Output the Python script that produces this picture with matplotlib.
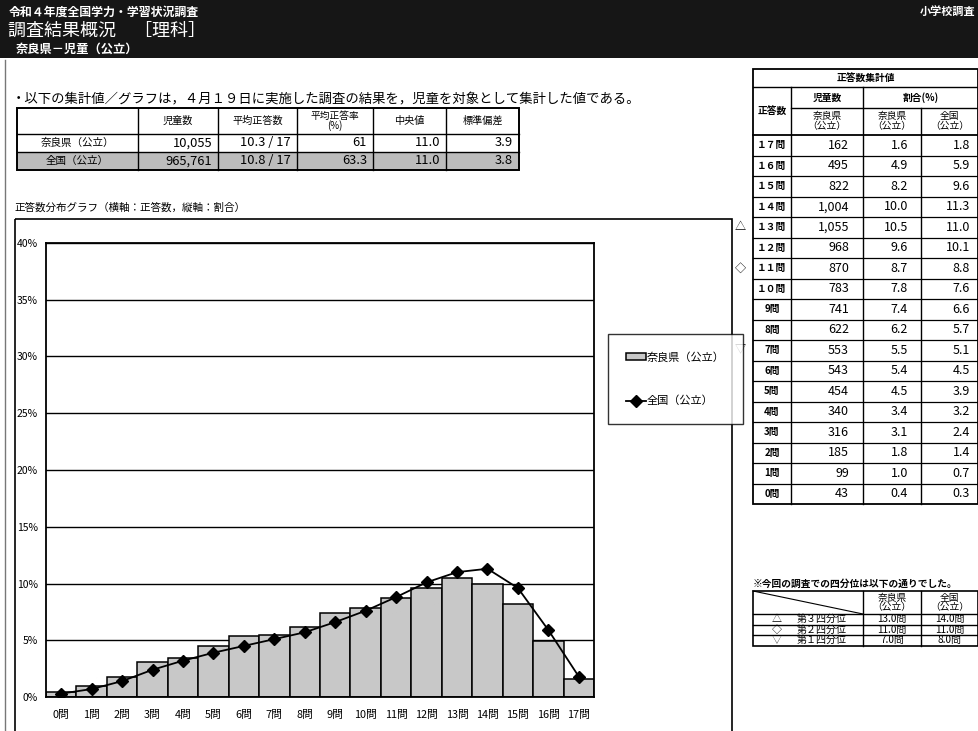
import matplotlib
matplotlib.use('Agg')
import matplotlib.pyplot as plt
from matplotlib.patches import Rectangle
from matplotlib.lines import Line2D

plt.rcParams['font.family'] = ['Noto Sans CJK JP', 'DejaVu Sans']

# ---------------- data ----------------
categories = ['0問', '1問', '2問', '3問', '4問', '5問', '6問', '7問', '8問', '9問',
              '10問', '11問', '12問', '13問', '14問', '15問', '16問', '17問']
table_labels = ['0問', '1問', '2問', '3問', '4問', '5問', '6問', '7問', '8問', '9問',
                '１０問', '１１問', '１２問', '１３問', '１４問', '１５問', '１６問', '１７問']
nara_counts = [43, 99, 185, 316, 340, 454, 543, 553, 622, 741,
               783, 870, 968, 1055, 1004, 822, 495, 162]
nara_pct = [0.4, 1.0, 1.8, 3.1, 3.4, 4.5, 5.4, 5.5, 6.2, 7.4,
            7.8, 8.7, 9.6, 10.5, 10.0, 8.2, 4.9, 1.6]
national_pct = [0.3, 0.7, 1.4, 2.4, 3.2, 3.9, 4.5, 5.1, 5.7, 6.6,
                7.6, 8.8, 10.1, 11.0, 11.3, 9.6, 5.9, 1.8]
y_ticks = [0, 5, 10, 15, 20, 25, 30, 35, 40]

summary_cols = ['児童数', '平均正答数', '平均正答率\n(%)', '中央値', '標準偏差']
summary_rows = ['奈良県（公立）', '全国（公立）']
summary_vals = [['10,055', '10.3 / 17', '61', '11.0', '3.9'],
                ['965,761', '10.8 / 17', '63.3', '11.0', '3.8']]

quart_labels = ['第３四分位', '第２四分位', '第１四分位']
quart_marks = ['△', '◇', '▽']
quart_nara = ['13.0問', '11.0問', '7.0問']
quart_nat = ['14.0問', '11.0問', '8.0問']
quart_rows_idx = [13, 11, 7]

W, H = 979, 731
fig = plt.figure(figsize=(W / 100, H / 100), dpi=100)
page = fig.add_axes([0, 0, 1, 1])
page.set_xlim(0, W)
page.set_ylim(H, 0)
page.axis('off')


def box(x0, y0, x1, y1, fc='none', ec='black', lw=1.0, z=1):
    page.add_patch(Rectangle((x0, y0), x1 - x0, y1 - y0, fc=fc, ec=ec, lw=lw, zorder=z))


def line(x0, y0, x1, y1, lw=1.0, c='black'):
    page.add_line(Line2D([x0, x1], [y0, y1], lw=lw, color=c))


def txt(x, y, s, size=8, ha='center', va='center', color='black', weight='normal', ls=1.0):
    page.text(x, y, s, fontsize=size, ha=ha, va=va, color=color, fontweight=weight,
              linespacing=ls)


# ---------------- header ----------------
box(0, 0, W, 58, fc='#161616', ec='none', lw=0)
txt(9, 12, '令和４年度全国学力・学習状況調査', size=8.6, ha='left', color='white', weight='bold')
txt(8, 31, '調査結果概況　［理科］', size=13, ha='left', color='white')
txt(16, 49, '奈良県－児童（公立）', size=8.8, ha='left', color='white', weight='bold')
txt(975, 12, '小学校調査', size=8, ha='right', color='white', weight='bold')

# page border line
line(5, 60, 5, H, lw=1.0, c='#777777')

# ---------------- intro text ----------------
txt(12, 99, '・以下の集計値／グラフは，４月１９日に実施した調査の結果を，児童を対象として集計した値である。',
    size=9.6, ha='left')

# ---------------- summary table ----------------
sx = [17, 138, 218, 297, 373, 446, 519]
sy = [108, 134, 152, 170]
box(sx[0], sy[2], sx[-1], sy[3], fc='#bcbcbc', ec='none', lw=0, z=0)
box(sx[0], sy[0], sx[-1], sy[3], lw=1.4)
for yy in sy[1:3]:
    line(sx[0], yy, sx[-1], yy, lw=1.0)
for xx in sx[1:-1]:
    line(xx, sy[0], xx, sy[3], lw=1.0)
for j, c in enumerate(summary_cols):
    txt((sx[j + 1] + sx[j + 2]) / 2, (sy[0] + sy[1]) / 2, c, size=7.3 if '\n' not in c else 7, ls=1.0)
for i, r in enumerate(summary_rows):
    yc = (sy[i + 1] + sy[i + 2]) / 2
    txt((sx[0] + sx[1]) / 2, yc, r, size=7.6)
    for j, v in enumerate(summary_vals[i]):
        txt(sx[j + 2] - 6, yc, v, size=9.3, ha='right')

# ---------------- chart ----------------
txt(14, 208, '正答数分布グラフ（横軸：正答数，縦軸：割合）', size=7.6, ha='left')
box(15, 219, 732, H + 5, lw=1.2)

ax = fig.add_axes([46 / W, (H - 697) / H, (594 - 46) / W, (697 - 243) / H])
x = list(range(len(categories)))
bars = ax.bar(x, nara_pct, width=1.0, color='#c8c8c8', edgecolor='black', linewidth=1.1, zorder=2,
              label='奈良県（公立）')
ln, = ax.plot(x, national_pct, color='black', lw=1.3, marker='D', markersize=6.5, zorder=3,
              label='全国（公立）')
ax.set_xlim(-0.5, len(categories) - 0.5)
ax.set_ylim(0, 40)
ax.set_yticks(y_ticks)
ax.set_yticklabels([f'{v}%' for v in y_ticks], fontsize=7.5)
ax.set_xticks(x)
ax.set_xticklabels(categories, fontsize=7.8)
ax.tick_params(axis='both', length=0)
ax.tick_params(axis='y', pad=6)
ax.tick_params(axis='x', pad=9)
ax.yaxis.grid(True, color='black', lw=1.0, zorder=0)
ax.set_axisbelow(True)
for sp in ax.spines.values():
    sp.set_linewidth(1.3)

# legend
lg = ax.legend([bars, ln], ['奈良県（公立）', '全国（公立）'],
               loc='upper left', bbox_to_anchor=((608 - 46) / (594 - 46), (697 - 334) / (697 - 243)),
               frameon=True, fancybox=False, edgecolor='black', fontsize=8,
               labelspacing=3.0, borderpad=1.6, handlelength=1.8, handletextpad=0.1,
               borderaxespad=0)
lg.get_frame().set_linewidth(1.0)

# ---------------- right table ----------------
rx = [753, 791, 863, 921, 978]
ry_head = [69, 87, 108, 135]
row_h = 20.5
n = len(table_labels)
ry_end = ry_head[-1] + row_h * n
box(rx[0], ry_head[0], rx[-1], ry_end, lw=1.3)
line(rx[0], ry_head[1], rx[-1], ry_head[1])
line(rx[1], ry_head[2], rx[-1], ry_head[2])
line(rx[0], ry_head[3], rx[-1], ry_head[3], lw=1.3)
line(rx[1], ry_head[1], rx[1], ry_end)
line(rx[2], ry_head[1], rx[2], ry_end)
line(rx[3], ry_head[2], rx[3], ry_end)
txt((rx[0] + rx[-1]) / 2, (ry_head[0] + ry_head[1]) / 2, '正答数集計値', size=7, weight='bold')
txt((rx[0] + rx[1]) / 2, (ry_head[1] + ry_head[3]) / 2, '正答数', size=7, weight='bold')
txt((rx[1] + rx[2]) / 2, (ry_head[1] + ry_head[2]) / 2, '児童数', size=7, weight='bold')
txt((rx[2] + rx[-1]) / 2, (ry_head[1] + ry_head[2]) / 2, '割合(%)', size=7, weight='bold')
for k in range(3):
    txt((rx[k + 1] + rx[k + 2]) / 2, (ry_head[2] + ry_head[3]) / 2,
        '全国\n（公立）' if k == 2 else '奈良県\n（公立）', size=7, ls=1.0)

for r in range(n):
    i = n - 1 - r  # 17 at top
    y0 = ry_head[3] + row_h * r
    yc = y0 + row_h / 2
    if r > 0:
        line(rx[0], y0, rx[-1], y0, lw=0.9)
    txt(772, yc, table_labels[i], size=7, weight='bold')
    txt(849, yc, f'{nara_counts[i]:,}', size=9, ha='right')
    txt(908, yc, f'{nara_pct[i]:.1f}', size=9, ha='right')
    txt(970, yc, f'{national_pct[i]:.1f}', size=9, ha='right')

for m, idx in zip(quart_marks, quart_rows_idx):
    r = n - 1 - idx
    txt(740, ry_head[3] + row_h * r + row_h / 2, m, size=8)

# ---------------- quartile table ----------------
txt(753, 584, '※今回の調査での四分位は以下の通りでした。', size=7, ha='left', weight='bold')
qx = [753, 863, 921, 978]
qy = [591, 614, 624.5, 635, 645.5]
box(qx[0], qy[0], qx[-1], qy[-1], lw=1.2)
for yy in qy[1:-1]:
    line(qx[0], yy, qx[-1], yy, lw=1.0)
for xx in qx[1:-1]:
    line(xx, qy[0], xx, qy[-1], lw=1.0)
line(qx[0], qy[0], qx[1], qy[1], lw=0.8)
txt((qx[1] + qx[2]) / 2, (qy[0] + qy[1]) / 2, '奈良県\n（公立）', size=7, ls=1.0)
txt((qx[2] + qx[3]) / 2, (qy[0] + qy[1]) / 2, '全国\n（公立）', size=7, ls=1.0)
for i in range(3):
    yc = (qy[i + 1] + qy[i + 2]) / 2
    txt(777, yc, quart_marks[i], size=7.2)
    txt(797, yc, quart_labels[i], size=7.2, ha='left')
    txt((qx[1] + qx[2]) / 2, yc, quart_nara[i], size=7.2)
    txt((qx[2] + qx[3]) / 2, yc, quart_nat[i], size=7.2)

fig.savefig('out.png', dpi=100)
